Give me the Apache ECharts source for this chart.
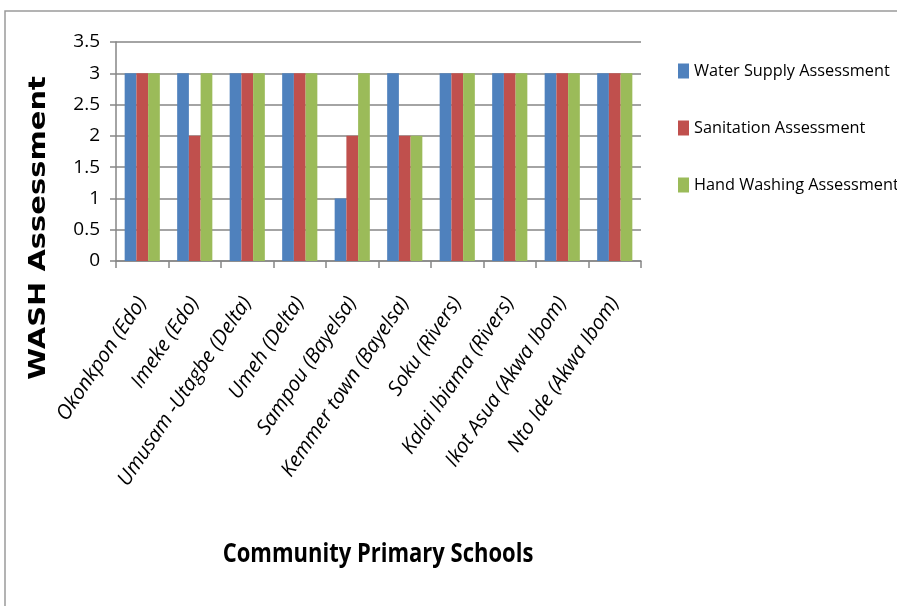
<!DOCTYPE html>
<html><head><meta charset="utf-8">
<script src="https://cdn.jsdelivr.net/npm/echarts@6/dist/echarts.min.js"></script>
<style>html,body{margin:0;padding:0;background:#fff}#c{width:897px;height:606px}</style>
</head><body><div id="c"></div>
<script>
const categories = ["Okonkpon (Edo)","Imeke (Edo)","Umusam -Utagbe (Delta)","Umeh (Delta)","Sampou (Bayelsa)","Kemmer town (Bayelsa)","Soku (Rivers)","Kalai Ibiama (Rivers)","Ikot Asua (Akwa Ibom)","Nto Ide (Akwa Ibom)"];
const waterSupply = [3,3,3,3,1,3,3,3,3,3];
const sanitation = [3,2,3,3,2,2,3,3,3,3];
const handWashing = [3,3,3,3,3,2,3,3,3,3];
const yTicks = [0,0.5,1,1.5,2,2.5,3,3.5];
const seriesNames = ["Water Supply Assessment","Sanitation Assessment","Hand Washing Assessment"];
const colors = ["#4F81BD","#C0504D","#9BBB59"];
const font = "'Open Sans',sans-serif";

const chart = echarts.init(document.getElementById('c'), null, {renderer:'canvas'});
const mk = (name, data, color) => ({name, type:'bar', data, itemStyle:{color}, barGap:'0%', barCategoryGap:'33%'});
chart.setOption({
  animation:false,
  backgroundColor:'#fff',
  grid:{left:116, top:42, right:256, bottom:345, containLabel:false},
  legend:{
    orient:'vertical', left:678, top:63, padding:0, itemWidth:11, itemHeight:15, itemGap:41, icon:'rect',
    textStyle:{fontFamily:font, fontSize:16.3, lineHeight:16, color:'#000'},
    data:seriesNames
  },
  xAxis:{
    type:'category', data:categories,
    axisLine:{lineStyle:{color:'#868686', width:1.5}},
    axisTick:{show:true, length:7, alignWithLabel:false, lineStyle:{color:'#868686', width:1.5}},
    axisLabel:{rotate:56, interval:0, fontFamily:font, fontStyle:'italic', fontSize:20.5, color:'#000', margin:38}
  },
  yAxis:{
    type:'value', min:yTicks[0], max:yTicks[yTicks.length-1], interval:0.5,
    axisLine:{show:true, lineStyle:{color:'#868686', width:1.5}},
    axisTick:{show:true, length:6, inside:false, lineStyle:{color:'#868686', width:1.5}},
    splitLine:{lineStyle:{color:'#868686', width:1.5}},
    axisLabel:{fontFamily:font, fontSize:19, color:'#000', margin:16, formatter:v=>String(v)}
  },
  series:[mk(seriesNames[0], waterSupply, colors[0]), mk(seriesNames[1], sanitation, colors[1]), mk(seriesNames[2], handWashing, colors[2])],
  graphic:[
    {type:'rect', shape:{x:5, y:11, width:1000, height:1000}, style:{fill:'none', stroke:'#9a9a9a', lineWidth:1.5}, z:-1},
    {type:'text', x:39, y:228, rotation:Math.PI/2, scaleX:1.26, style:{text:'WASH Assessment', font:"bold 23px 'DejaVu Sans',sans-serif", fill:'#000', align:'center', verticalAlign:'middle'}},
    {type:'text', x:378, y:555, scaleY:1.18, style:{text:'Community Primary Schools', font:"bold 22px "+font, fill:'#000', align:'center', verticalAlign:'middle'}}
  ]
});
</script></body></html>
